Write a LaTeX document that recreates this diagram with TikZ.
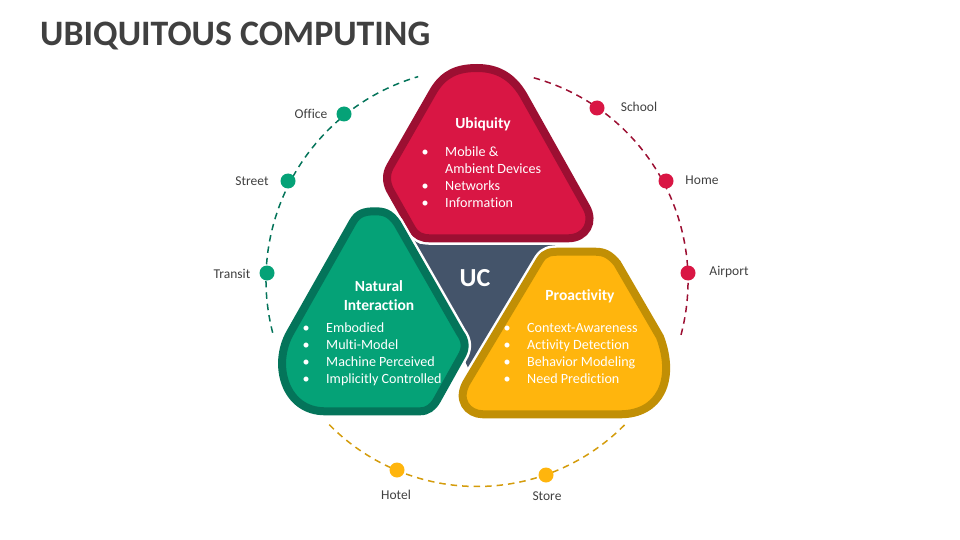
\documentclass[tikz,border=0pt]{standalone}
\usepackage{fontspec}
\setmainfont[Ligatures=NoCommon]{Carlito}
\definecolor{crim}{HTML}{D91644}
\definecolor{crimd}{HTML}{9C0F32}
\definecolor{grn}{HTML}{05A277}
\definecolor{grnd}{HTML}{04745A}
\definecolor{yel}{HTML}{FFB50D}
\definecolor{yeld}{HTML}{C18F05}
\definecolor{golddash}{HTML}{D49C0C}
\definecolor{slate}{HTML}{44546A}
\definecolor{ink}{HTML}{404040}
\newcommand{\bul}{\llap{\makebox[23.5pt][l]{•}}}
\tikzset{
 x=1pt,y=-1pt,
 halo/.style={draw=white,line width=13pt,line join=round},
 band/.style={line width=8pt,line join=round},
 dashline/.style={line width=1.5pt,dash pattern=on 6.5pt off 5pt},
 dot/.style={circle,inner sep=0pt,minimum size=15pt},
 lab/.style={text=ink,font=\fontsize{13.5}{16}\selectfont,inner sep=0pt},
 head/.style={text=white,font=\bfseries\fontsize{15.5}{19}\selectfont,inner sep=0pt,align=center},
 items/.style={text=white,font=\fontsize{14.1}{17}\selectfont,inner sep=0pt,align=left,anchor=north west},
}
\begin{document}
\begin{tikzpicture}
\useasboundingbox (0,0) rectangle (960,540);
\node[anchor=west,inner sep=0pt,text=ink,font=\bfseries\fontsize{35.8}{40}\selectfont] (title) at (40,36) {UBIQUITOUS COMPUTING};
% dashed ring
\coordinate (cL) at (478,280);
\coordinate (cR) at (477,281);
\coordinate (cB) at (477,279);
\draw[dashline,draw=grnd] (cL) ++(194.4:212pt) arc[start angle=194.4,end angle=106.4,radius=212pt];
\draw[dashline,draw=crimd] (cR) ++(74.4:211pt) arc[start angle=74.4,end angle=-15.2,radius=211pt];
\draw[dashline,draw=golddash] (cB) ++(224.6:207.5pt) arc[start angle=224.6,end angle=315.8,radius=207.5pt];
% centre
\fill[slate] (408,236) -- (420,244) -- (556,244) -- (470,372) -- cycle;
\node[text=white,font=\bfseries\fontsize{26}{30}\selectfont,inner sep=0pt] (uc) at (475,278) {UC};
% shapes
\def\pA{(434,90) -- (390,166.7) .. controls (386,174) and (386,182) .. (390,190) -- (411.7,228.3) .. controls (416,236) and (422,238.3) .. (430,238.3) -- (568,238.3) .. controls (586,238.3) and (595,222) .. (586,206.7) -- (523.3,95) .. controls (512,76) and (497,68) .. (477,68) .. controls (457,68) and (444,74) .. (434,90) -- cycle}
\def\pB{(353,221.7) -- (290,333) .. controls (272,365) and (285,411.3) .. (325,411.3) -- (420,411.3) .. controls (428,411.3) and (433,407) .. (437,400) -- (461,357) .. controls (466,349) and (466,341) .. (460,333) -- (397,223) .. controls (390,213) and (384,211.3) .. (375,211.3) .. controls (365,211.3) and (358,213) .. (353,221.7) -- cycle}
\def\pC{(540,260) -- (468,380) .. controls (455,400) and (468,414.3) .. (483,414.3) -- (620,414.3) .. controls (660,414.3) and (676,380) .. (660,337) -- (617,263) .. controls (610,255) and (605,251.7) .. (595,251.7) -- (560,251.7) .. controls (551,251.7) and (545,252) .. (540,260) -- cycle}
\draw[halo] \pA;
\draw[band,draw=crimd,fill=crim] \pA;
\draw[halo] \pB;
\draw[band,draw=grnd,fill=grn] \pB;
\draw[halo] \pC;
\draw[band,draw=yeld,fill=yel] \pC;
% headings
\node[head] (h1) at (483,124) {Ubiquity};
\node[head] (h2) at (379,296) {Natural\\[0pt]Interaction};
\node[head] (h3) at (580,296) {Proactivity};
% lists
\node[items] (l1) at (445,144) {\strut\bul Mobile \&\\Ambient Devices\\\bul Networks\\\bul Information};
\node[items] (l2) at (326,320) {\strut\bul Embodied\\\bul Multi-Model\\\bul Machine Perceived\\\bul Implicitly Controlled};
\node[items] (l3) at (527,320) {\strut\bul Context-Awareness\\\bul Activity Detection\\\bul Behavior Modeling\\\bul Need Prediction};
% dots
\node[dot,fill=grn] (d1) at (344,114) {};
\node[dot,fill=grn] (d2) at (288,181) {};
\node[dot,fill=grn] (d3) at (267,273) {};
\node[dot,fill=crim] (d4) at (597,108) {};
\node[dot,fill=crim] (d5) at (666,181) {};
\node[dot,fill=crim] (d6) at (688,273) {};
\node[dot,fill=yel] (d7) at (397,470) {};
\node[dot,fill=yel] (d8) at (546,475) {};
% labels
\node[lab] (t1) at (311,114) {Office};
\node[lab] (t2) at (252,181) {Street};
\node[lab] (t3) at (232,274) {Transit};
\node[lab] (t4) at (639,107) {School};
\node[lab] (t5) at (702,180) {Home};
\node[lab] (t6) at (729,272) {Airport};
\node[lab] (t7) at (396,495) {Hotel};
\node[lab] (t8) at (547,496) {Store};
\end{tikzpicture}
\end{document}
